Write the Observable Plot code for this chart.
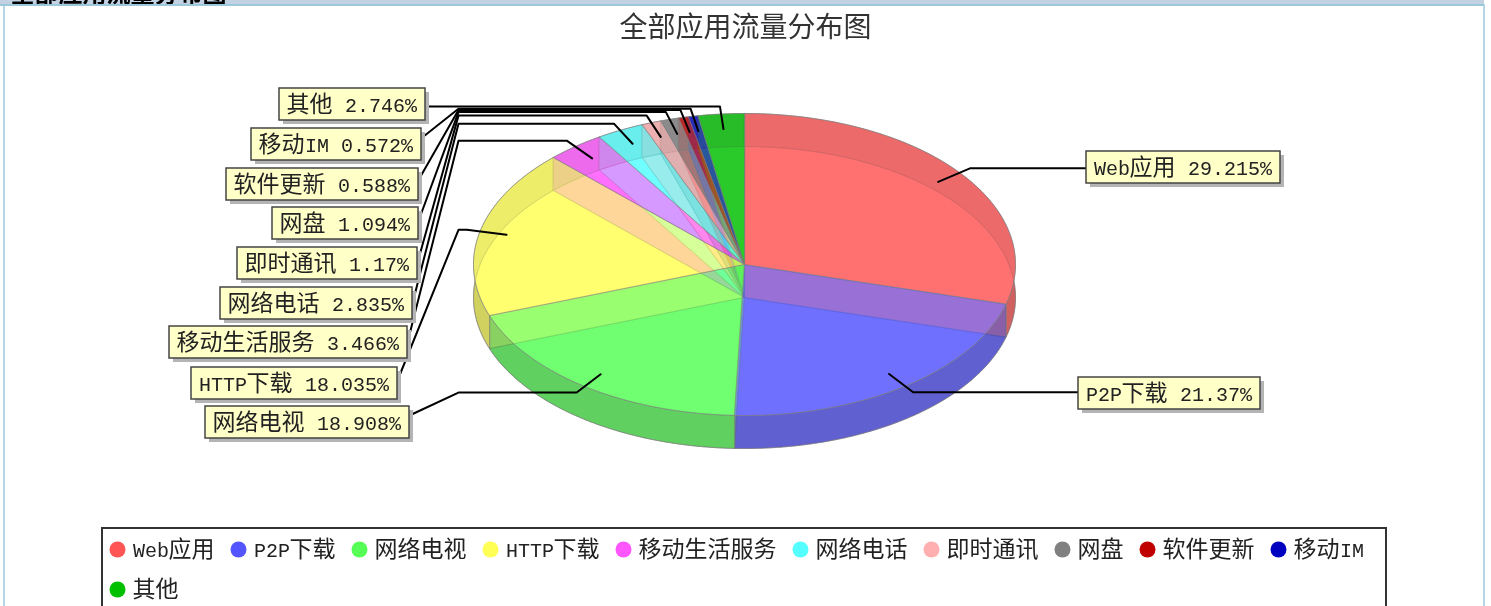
<!DOCTYPE html>
<html lang="zh">
<head>
<meta charset="utf-8">
<script src="https://cdn.jsdelivr.net/npm/d3@7"></script>
<script src="https://cdn.jsdelivr.net/npm/@observablehq/plot@0.6"></script>
<style>
@font-face { font-family: "HalfMono"; src: local("Liberation Mono"); size-adjust: 87%; unicode-range: U+0020-007E; }
html, body { margin: 0; padding: 0; background: #fff; overflow: hidden; }
svg { display: block; }
</style>
</head>
<body>
<div id="chart"></div>
<script>
const titleText = "全部应用流量分布图";
const categories = ["Web应用","P2P下载","网络电视","HTTP下载","移动生活服务","网络电话","即时通讯","网盘","软件更新","移动IM","其他"];
const percents = [29.215,21.37,18.908,18.035,3.466,2.835,1.17,1.094,0.588,0.572,2.746];
const colors = ["#FF5555","#5555FF","#55FF55","#FFFF55","#FF55FF","#55FFFF","#FFAFAF","#808080","#C00000","#0000C0","#00C000"];

// Layout of the callouts, by slice (left edge on the right side, right edge on the left side)
const labelEdge = [1086,1078,409,397,407,412,417,418,418,421,425];
const labelTop = [151,377,406,367,326,287,247,207,168,128,88];

const W = 1491, H = 606;
const cx = 744, cy = 264, rx = 271, ry = 151, depth = 33;
const font = '"HalfMono","Noto Sans CJK SC",sans-serif';
const px = t => Array.from(t).reduce((s, c) => s + (c.charCodeAt(0) < 128 ? 12 : 23), 0);
const pt = (a, r, d = 0) => ({x: cx + rx * r * Math.sin(a), y: cy + d - ry * r * Math.cos(a)});

const total = d3.sum(percents);
let acc = 0;
const slices = categories.map((name, i) => {
  const a0 = acc / total * 2 * Math.PI;
  acc += percents[i];
  const a1 = acc / total * 2 * Math.PI;
  return {i, name, value: percents[i], color: colors[i], a0, a1, mid: (a0 + a1) / 2};
});
const arc = s => {
  const n = Math.max(2, Math.ceil((s.a1 - s.a0) / 0.01));
  return d3.range(n + 1).map(k => s.a0 + (s.a1 - s.a0) * k / n);
};
const dark = c => { const q = d3.rgb(c); return d3.rgb(q.r * .7, q.g * .7, q.b * .7).formatHex(); };

const bottomFaces = [], walls = [], topFaces = [];
for (const s of slices) {
  const as = arc(s);
  for (const p of [{x: cx, y: cy + depth}, ...as.map(a => pt(a, 1, depth))]) bottomFaces.push({...p, key: s.i, color: s.color});
  for (const p of [...as.map(a => pt(a, 1)), ...as.slice().reverse().map(a => pt(a, 1, depth))]) walls.push({...p, key: s.i, color: dark(s.color)});
  for (const p of [{x: cx, y: cy}, ...as.map(a => pt(a, 1))]) topFaces.push({...p, key: s.i, color: s.color});
}

const kneeLeft = 458;
const labels = slices.map(s => {
  const text = `${s.name} ${s.value}%`;
  const w = px(text) + 16, left = Math.sin(s.mid) < 0;
  const x1 = left ? labelEdge[s.i] - w : labelEdge[s.i], x2 = x1 + w;
  const y1 = labelTop[s.i], y2 = y1 + 32;
  return {text, x1, x2, y1, y2, left, key: s.i, s};
});
const leaders = [];
for (const l of labels) {
  const a = pt(l.s.mid, .9), k = pt(l.s.mid, 1.05);
  const pts = l.left
    ? [a, k, {x: kneeLeft, y: k.y}, {x: l.x2 + 2, y: Math.max(k.y, l.y1 + 8)}]
    : [a, k, {x: l.x1, y: k.y}];
  for (const p of pts) leaders.push({...p, key: l.key});
}

// Legend flows left to right and wraps inside its frame
const legendBox = {x1: 102, x2: 1386, y1: 528, y2: 625};
let lx = legendBox.x1 + 7, ly = legendBox.y1 + 21;
const legend = slices.map(s => {
  const w = px(s.name);
  if (lx + 30 + w > legendBox.x2) { lx = legendBox.x1 + 7; ly += 40; }
  const item = {name: s.name, color: s.color, cx: lx + 8, tx: lx + 23, y: ly};
  lx += 23 + w + 16;
  return item;
});

const poly = (data, o = {}) => Plot.line(data, {x: "x", y: "y", z: "key", fill: "color", fillOpacity: .6, stroke: "#808080", strokeOpacity: .6, strokeWidth: 1, curve: "linear-closed", ...o});

const chart = Plot.plot({
  width: W, height: H, margin: 0,
  x: {domain: [0, W], range: [0, W], axis: null},
  y: {domain: [0, H], range: [0, H], axis: null},
  marks: [
    Plot.rect([0], {x1: () => 0, x2: () => 1484, y1: () => 0, y2: () => 4, fill: "#c3d2e3"}),
    Plot.text([titleText], {x: () => 10, y: () => 1, text: d => d, textAnchor: "start", lineAnchor: "bottom", fontSize: 24, fontWeight: "bold", fontFamily: font, fill: "#000"}),
    Plot.ruleY([4.5], {x1: 0, x2: 1484, stroke: "#9cc8dc", strokeWidth: 2}),
    Plot.ruleX([3.5], {y1: 4, y2: H, stroke: "#9cc8dc", strokeWidth: 1.5}),
    Plot.ruleX([1483.5], {y1: 4, y2: H, stroke: "#9cc8dc", strokeWidth: 1.5}),
    Plot.text([titleText], {x: () => 745, y: () => 28, text: d => d, fontSize: 28, fontFamily: font, fill: "#333", textAnchor: "middle", lineAnchor: "middle"}),
    poly(bottomFaces),
    poly(walls),
    poly(topFaces),
    Plot.line(leaders, {x: "x", y: "y", z: "key", stroke: "#000", strokeWidth: 2, curve: "linear"}),
    Plot.rect(labels, {x1: d => d.x1 + 4, x2: d => d.x2 + 4, y1: d => d.y1 + 4, y2: d => d.y2 + 4, fill: "#b4b4b4"}),
    Plot.rect(labels, {x1: "x1", x2: "x2", y1: "y1", y2: "y2", fill: "#ffffc8", stroke: "#444", strokeWidth: 1.5}),
    Plot.text(labels, {x: d => d.x1 + 7, y: d => (d.y1 + d.y2) / 2, text: "text", textAnchor: "start", lineAnchor: "middle", fontSize: 23, fontFamily: font, fill: "#222"}),
    Plot.rect([legendBox], {x1: "x1", x2: "x2", y1: "y1", y2: "y2", fill: "none", stroke: "#333", strokeWidth: 2}),
    Plot.dot(legend, {x: "cx", y: "y", r: 8, fill: "color", fillOpacity: 1, stroke: "none"}),
    Plot.text(legend, {x: "tx", y: "y", text: "name", textAnchor: "start", lineAnchor: "middle", fontSize: 23, fontFamily: font, fill: "#222"})
  ]
});
chart.style.filter = "blur(0.5px)";
document.getElementById("chart").append(chart);
</script>
</body>
</html>
